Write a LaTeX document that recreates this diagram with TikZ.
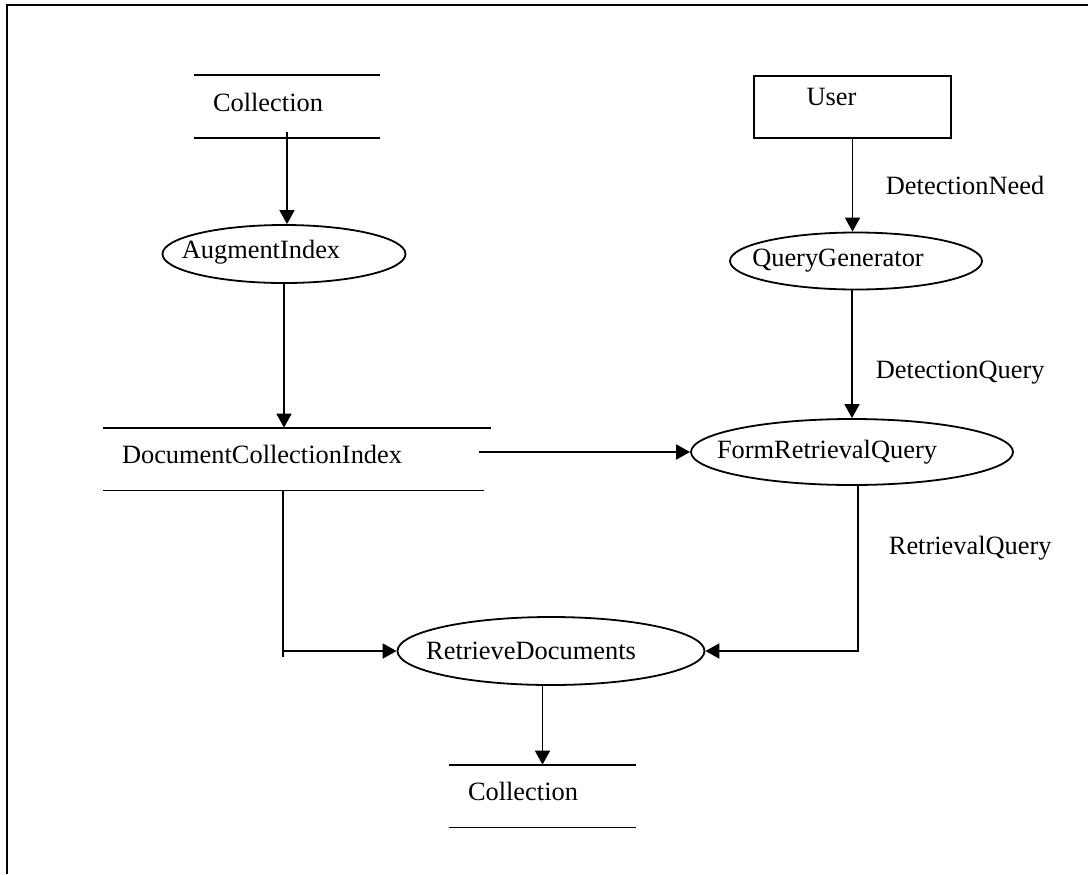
\documentclass[tikz,border=0pt]{standalone}
\usepackage{fontspec}
\setmainfont{Liberation Serif}
\usetikzlibrary{shapes.geometric,arrows.meta,calc}
\tikzset{
    store/.style = {rectangle, align=left, inner xsep=9pt,
        minimum height=30.5pt, text depth=4.5pt},
    proc/.style = {draw, ellipse, inner sep=0pt},
    entity/.style = {draw, rectangle, inner sep=0pt},
    arrow/.style = {draw, -{Triangle[length=7pt,width=7.5pt]}},
    flow/.style = {anchor=west, inner sep=0pt}
}

\begin{document}
\begin{tikzpicture}[x=.5pt, y=-.5pt, line width=.9pt, font=\fontsize{13.2}{15}\selectfont]
    \useasboundingbox (0,0) rectangle (1088,874);
    \draw[line width=1pt] (1088,5) -- (7,5) -- (7,874);
    \node[store, text width=74pt] (coll1) at (287,106.5) {Collection};
    \node[store, text width=175pt] (dci) at (297,459) {DocumentCollectionIndex};
    \node[store, text width=74.5pt] (coll2) at (542.5,796) {Collection};
    \draw (coll1.north west) -- (coll1.north east) (coll1.south west) -- (coll1.south east);
    \draw (dci.north west) -- (dci.north east) (dci.south west) -- ([xshift=-3.5pt]dci.south east);
    \draw (coll2.north west) -- (coll2.north east) (coll2.south west) -- (coll2.south east);
    \node[entity, minimum width=98.5pt, minimum height=31pt,
        label={[xshift=-10.5pt,yshift=5pt]center:User}] (user) at (852.5,107) {};
    \node[proc, minimum width=121.5pt, minimum height=29pt,
        label={[xshift=-11.5pt,yshift=1pt]center:AugmentIndex}] (aug) at (284,254) {};
    \node[proc, minimum width=126pt, minimum height=28.5pt,
        label={[xshift=-9pt]center:QueryGenerator}] (qgen) at (856,261) {};
    \node[proc, minimum width=161pt, minimum height=33pt,
        label={[xshift=-12.5pt]center:FormRetrievalQuery}] (frq) at (852,452) {};
    \node[proc, minimum width=153.5pt, minimum height=34pt,
        label={[xshift=-10pt]center:RetrieveDocuments}] (ret) at (551,651) {};
    \node[flow] (needlbl) at (885,185) {DetectionNeed};
    \node[flow] (querylbl) at (875,373) {DetectionQuery};
    \node[flow] (retrlbl) at (888,548) {RetrievalQuery};
    \coordinate (bend) at (283,657);
    \draw[arrow] ([yshift=3pt]coll1.south) -- (coll1.south |- aug.north);
    \draw[arrow] (aug.south) -- (aug.south |- dci.north);
    \draw[arrow] (user.south) -- (user.south |- qgen.north);
    \draw[arrow] (frq.north |- qgen.south) -- (frq.north);
    \draw[arrow, shorten <=-6pt] (dci.east |- frq.west) -- (frq.west);
    \draw (bend |- dci.south) -- (bend);
    \draw[arrow] (bend |- ret.west) -- (ret.west);
    \draw[arrow] ([xshift=3pt]frq.south) |- (ret.east);
    \draw[arrow] (ret.south -| coll2.north) -- (coll2.north);
\end{tikzpicture}
\end{document}
